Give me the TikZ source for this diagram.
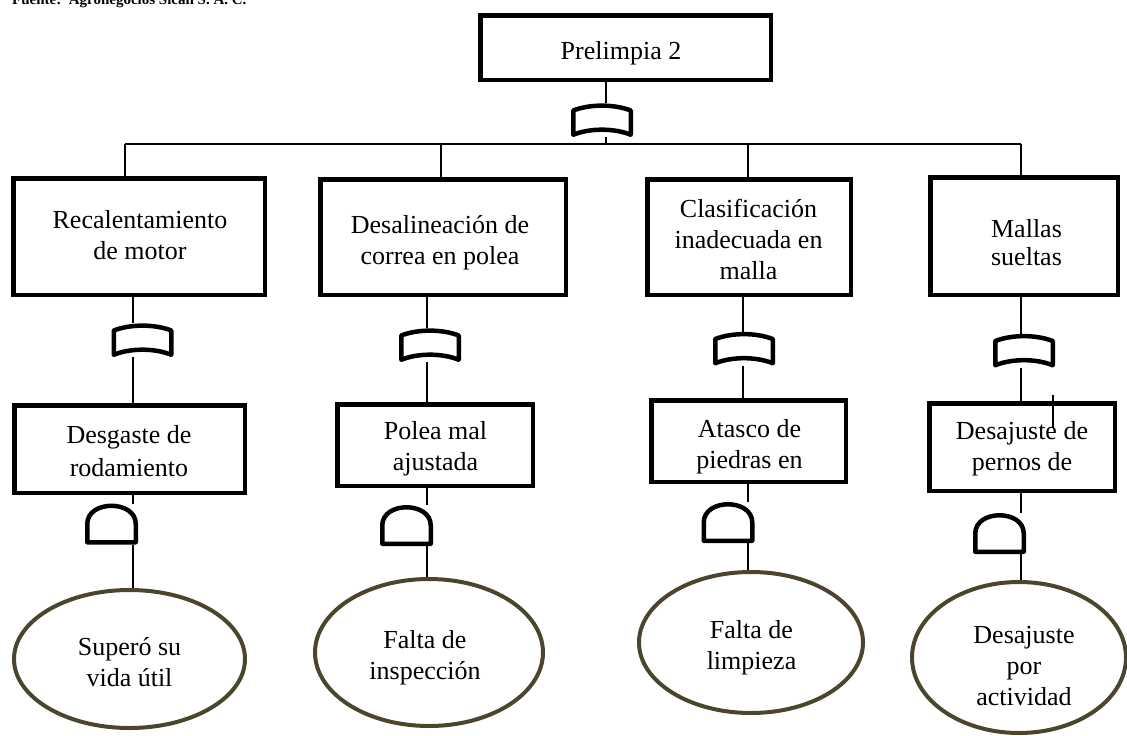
\documentclass[tikz,border=0pt]{standalone}
\usepackage{fontspec}
\setmainfont{Liberation Serif}
\usetikzlibrary{shapes.geometric}
\definecolor{evcol}{RGB}{74,69,44}
\tikzset{
  box/.style={draw, line width=4.5pt, rectangle, inner sep=0pt},
  ev/.style={draw=evcol, line width=4pt, ellipse, inner sep=0pt},
  orbox/.style={rectangle, inner sep=0pt, outer sep=0pt, minimum width=62pt, minimum height=34pt},
  andbox/.style={rectangle, inner sep=0pt, outer sep=0pt, minimum width=53pt, minimum height=41pt},
  conn/.style={line width=1.8pt},
  gl/.style={line width=4.5pt, line join=round},
  lbl/.style={font=\fontsize{26}{31}\selectfont, align=center, inner sep=0pt, anchor=north},
}
\newcommand\orshape[1]{\draw[gl, shift={(#1.center)}] (-28.75,14.75) -- (-28.75,-9.5) .. controls (-12,-16) and (12,-16) .. (28.75,-9.5) -- (28.75,14.75) .. controls (12,8) and (-12,8) .. cycle;}
\newcommand\andshape[1]{\draw[gl, shift={(#1.center)}] (-24.25,18.25) -- (-24.25,0) .. controls (-24.25,-24.3) and (24.25,-24.3) .. (24.25,0) -- (24.25,18.25) -- cycle;}
\begin{document}
\begin{tikzpicture}[x=1pt, y=-1pt]
\useasboundingbox (0,0) rectangle (1127,736);
\clip (0,0) rectangle (1127,736);

% header (cut at top, as in the source)
\node[anchor=base west, font=\bfseries\fontsize{15}{18}\selectfont, inner sep=0pt] (src) at (12,4.5) {Fuente:\ \ Agronegocios Sicali S. A. C.};

% top event
\node[box, minimum width=290.5pt, minimum height=64.5pt] (top) at (625.5,47.5) {};
\node[lbl] (ttop) at (621,37.3) {\strut Prelimpia 2};

% row 1 boxes
\node[box, minimum width=251.5pt, minimum height=116.5pt] (R1) at (139,236.5) {};
\node[box, minimum width=245.5pt, minimum height=115.5pt] (R2) at (443,237) {};
\node[box, minimum width=203.5pt, minimum height=115.5pt] (R3) at (749,237) {};
\node[box, minimum width=187.5pt, minimum height=117.5pt] (R4) at (1024,236) {};
\node[lbl] (t11) at (140,206.3) {\strut Recalentamiento\\de motor};
\node[lbl] (t12) at (440,211.3) {\strut Desalineación de\\correa en polea};
\node[lbl] (t13) at (748.5,195.3) {\strut Clasificación\\inadecuada en\\malla};
\node[lbl] (t14) at (1026.5,215.3) {\strut Mallas\\[-3pt]sueltas};

% row 2 boxes
\node[box, minimum width=230.5pt, minimum height=87.5pt] (Q1) at (129.5,449) {};
\node[box, minimum width=195.5pt, minimum height=81.5pt] (Q2) at (435,445) {};
\node[box, minimum width=194.5pt, minimum height=81.5pt] (Q3) at (748.5,441) {};
\node[box, minimum width=185.5pt, minimum height=87.5pt] (Q4) at (1022,447) {};
\node[lbl] (t21) at (129,421.3) {\strut Desgaste de\\[2pt]rodamiento};
\node[lbl] (t22) at (435.5,417.3) {\strut Polea mal\\ajustada};
\node[lbl] (t23) at (749.5,415.3) {\strut Atasco de\\piedras en};
\node[lbl] (t24) at (1022,417.3) {\strut Desajuste de\\pernos de};

% basic events
\node[ev, minimum width=231pt, minimum height=138pt] (E1) at (129.5,659) {};
\node[ev, minimum width=228pt, minimum height=147pt] (E2) at (429,652.5) {};
\node[ev, minimum width=224pt, minimum height=141pt] (E3) at (751,642.5) {};
\node[ev, minimum width=214pt, minimum height=151pt] (E4) at (1019,657.5) {};
\node[lbl] (te1) at (129.5,633.3) {\strut Superó su\\vida útil};
\node[lbl] (te2) at (425,626.3) {\strut Falta de\\inspección};
\node[lbl] (te3) at (751.5,616.3) {\strut Falta de\\limpieza};
\node[lbl] (te4) at (1024,621.3) {\strut Desajuste\\por\\actividad};

% gates
\node[orbox] (G0) at (602,120) {};
\node[orbox] (G1) at (142.5,340) {};
\node[orbox] (G2) at (430,345) {};
\node[orbox] (G3) at (744,348.5) {};
\node[orbox] (G4) at (1024,350.5) {};
\node[andbox] (A1) at (111.5,524) {};
\node[andbox] (A2) at (406.5,525.5) {};
\node[andbox] (A3) at (728,522.5) {};
\node[andbox] (A4) at (999.5,533.5) {};
\orshape{G0}\orshape{G1}\orshape{G2}\orshape{G3}\orshape{G4}
\andshape{A1}\andshape{A2}\andshape{A3}\andshape{A4}

% connector positions
\coordinate (x0) at (606,0);
\coordinate (busL) at (125,144);
\coordinate (bus0) at (606,144);
\coordinate (bus2) at (441,144);
\coordinate (bus3) at (748,144);
\coordinate (busR) at (1021,144);
\coordinate (c1) at (133,0);
\coordinate (c2) at (427,0);
\coordinate (c3a) at (743,0);
\coordinate (c3b) at (748,0);
\coordinate (c4) at (1021,0);
\coordinate (s4) at (1053,395);

% connectors
\draw[conn] (top.south -| x0) -- (G0.north -| x0);
\draw[conn] (G0.south -| x0) -- (bus0);
\draw[conn] (busL) -- (busR);
\draw[conn] (busL) -- (busL |- R1.north);
\draw[conn] (bus2) -- (bus2 |- R2.north);
\draw[conn] (bus3) -- (bus3 |- R3.north);
\draw[conn] (busR) -- (busR |- R4.north);

\draw[conn] (R1.south -| c1) -- (G1.north -| c1);
\draw[conn] (G1.south -| c1) -- (Q1.north -| c1);
\draw[conn] (Q1.south -| c1) -- (A1.north -| c1);
\draw[conn] (A1.south -| c1) -- (E1.north -| c1);

\draw[conn] (R2.south -| c2) -- (G2.north -| c2);
\draw[conn] (G2.south -| c2) -- (Q2.north -| c2);
\draw[conn] (Q2.south -| c2) -- (A2.north -| c2);
\draw[conn] (A2.south -| c2) -- (E2.north -| c2);

\draw[conn] (R3.south -| c3a) -- (G3.north -| c3a);
\draw[conn] (G3.south -| c3a) -- (Q3.north -| c3a);
\draw[conn] (Q3.south -| c3b) -- (A3.north -| c3b);
\draw[conn] (A3.south -| c3b) -- (E3.north -| c3b);

\draw[conn] (R4.south -| c4) -- (G4.north -| c4);
\draw[conn] (G4.south -| c4) -- (Q4.north -| c4);
\draw[conn] (Q4.south -| c4) -- (A4.north -| c4);
\draw[conn] (A4.south -| c4) -- (E4.north -| c4);
\draw[conn] (s4) -- ++(0,33);
\end{tikzpicture}
\end{document}
